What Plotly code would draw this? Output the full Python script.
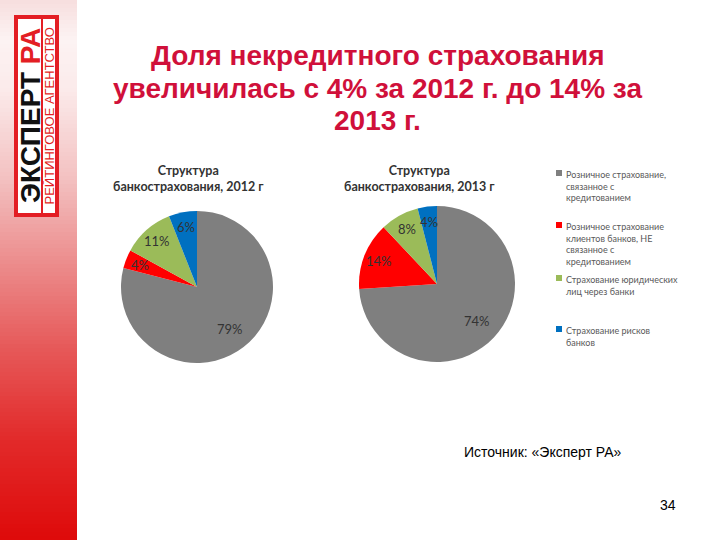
import math
import plotly.graph_objects as go

# ---------------- data ----------------
categories = [
    "Розничное страхование,<br>связанное с<br>кредитованием",
    "Розничное страхование<br>клиентов банков, НЕ<br>связанное с<br>кредитованием",
    "Страхование юридических<br>лиц через банки",
    "Страхование рисков<br>банков",
]
shares_2012 = [79, 4, 11, 6]
shares_2013 = [74, 14, 8, 4]
pie_titles = ["Структура<br>банкострахования, 2012 г", "Структура<br>банкострахования, 2013 г"]
title_lines = ["Доля некредитного страхования",
               "увеличилась с 4% за 2012 г. до 14% за",
               "2013 г."]
source_text = "Источник: «Эксперт РА»"
page_number = "34"

# ---------------- style ----------------
W, H = 720, 540
slice_colors = ["#7f7f7f", "#ff0000", "#9bbb59", "#0070c0"]
TITLE_RED = "#d0103a"


def px(x):
    return x / W


def py(y):
    return 1 - y / H


fig = go.Figure()

# pie geometry (pixel centre, radius)
pies = [
    dict(values=shares_2012, cx=197, cy=287, r=76, title=pie_titles[0], tx=188, ty=178),
    dict(values=shares_2013, cx=437, cy=284, r=78, title=pie_titles[1], tx=419, ty=178),
]

annotations = []
for p in pies:
    fig.add_trace(go.Pie(
        values=p["values"],
        labels=[c.replace("<br>", " ") for c in categories],
        sort=False,
        direction="clockwise",
        rotation=0,
        marker=dict(colors=slice_colors, line=dict(width=0)),
        textinfo="none",
        hoverinfo="label+percent",
        showlegend=False,
        domain=dict(x=[px(p["cx"] - p["r"]), px(p["cx"] + p["r"])],
                    y=[py(p["cy"] + p["r"]), py(p["cy"] - p["r"])]),
    ))
    total = sum(p["values"])
    cum = 0
    for v in p["values"]:
        mid = 90 - 360 * (cum + v / 2) / total
        cum += v
        f = 0.70 if v > 50 else 0.80
        lx = p["cx"] + f * p["r"] * math.cos(math.radians(mid))
        ly = p["cy"] - f * p["r"] * math.sin(math.radians(mid))
        annotations.append(dict(
            x=px(lx), y=py(ly), xref="paper", yref="paper",
            text=f"{v}%", showarrow=False, xanchor="center", yanchor="middle",
            font=dict(family="Lato", size=13, color="#333333"),
        ))
    annotations.append(dict(
        x=px(p["tx"]), y=py(p["ty"]), xref="paper", yref="paper",
        text="<b>" + p["title"] + "</b>", showarrow=False,
        xanchor="center", yanchor="middle", align="center",
        font=dict(family="Lato", size=12.5, color="#333333"),
    ))

# legend built from categories
legend_tops = [167, 219, 272, 323]
shapes = []
for cat, col, top in zip(categories, slice_colors, legend_tops):
    shapes.append(dict(type="rect", xref="paper", yref="paper",
                       x0=px(556), x1=px(562), y0=py(top + 9), y1=py(top + 3),
                       fillcolor=col, line=dict(width=0)))
    annotations.append(dict(
        x=px(564), y=py(top), xref="paper", yref="paper",
        text=cat, showarrow=False, xanchor="left", yanchor="top", align="left",
        font=dict(family="Lato", size=9, color="#595959"),
    ))

# left gradient strip
stops = [(0, (247, 222, 222)), (40, (252, 243, 243)), (90, (251, 234, 234)),
         (180, (243, 192, 192)), (260, (236, 142, 142)), (350, (230, 88, 88)),
         (440, (226, 42, 42)), (540, (222, 10, 10))]


def grad(y):
    for (y0, c0), (y1, c1) in zip(stops[:-1], stops[1:]):
        if y0 <= y <= y1:
            t = (y - y0) / (y1 - y0)
            return "rgb(%d,%d,%d)" % tuple(round(a + (b - a) * t) for a, b in zip(c0, c1))
    return "rgb(222,10,10)"


band = 4
for y in range(0, H, band):
    shapes.insert(0, dict(type="rect", xref="paper", yref="paper", layer="below",
                          x0=0, x1=px(77), y0=py(y + band), y1=py(y),
                          fillcolor=grad(y + band / 2), line=dict(width=0)))

# logo frame
shapes.append(dict(type="rect", xref="paper", yref="paper",
                   x0=px(14), x1=px(59), y0=py(217), y1=py(15),
                   fillcolor="#e31e24", line=dict(width=0)))
shapes.append(dict(type="rect", xref="paper", yref="paper",
                   x0=px(18), x1=px(55), y0=py(213), y1=py(19),
                   fillcolor="white", line=dict(width=0)))
shapes.append(dict(type="rect", xref="paper", yref="paper",
                   x0=px(41), x1=px(43), y0=py(213), y1=py(19),
                   fillcolor="#e31e24", line=dict(width=0)))

annotations.append(dict(
    x=px(31), y=py(116), xref="paper", yref="paper", textangle=-90,
    text="ЭКСПЕРТ <span style='color:#e31e24'>РА</span>", showarrow=False,
    xanchor="center", yanchor="middle",
    font=dict(family="Liberation Sans", size=28, color="#111111", weight="bold"),
))
annotations.append(dict(
    x=px(49.5), y=py(116), xref="paper", yref="paper", textangle=-90,
    text="РЕЙТИНГОВОЕ АГЕНТСТВО", showarrow=False,
    xanchor="center", yanchor="middle",
    font=dict(family="Liberation Sans", size=13, color="#e31e24"),
))

# title (one annotation per line)
for line, yc in zip(title_lines, [55, 88, 120]):
    annotations.append(dict(
        x=px(377), y=py(yc), xref="paper", yref="paper",
        text="<b>" + line + "</b>", showarrow=False,
        xanchor="center", yanchor="middle", align="center",
        font=dict(family="Liberation Sans", size=28, color=TITLE_RED),
    ))
annotations.append(dict(
    x=px(462), y=py(452), xref="paper", yref="paper",
    text=source_text, showarrow=False, xanchor="left", yanchor="middle",
    font=dict(family="Liberation Sans", size=14, color="#000000"),
))
annotations.append(dict(
    x=px(678), y=py(505), xref="paper", yref="paper",
    text=page_number, showarrow=False, xanchor="right", yanchor="middle",
    font=dict(family="Liberation Sans", size=14, color="#000000"),
))

fig.update_layout(
    width=W, height=H,
    margin=dict(l=0, r=0, t=0, b=0),
    paper_bgcolor="white", plot_bgcolor="white",
    showlegend=False,
    annotations=annotations,
    shapes=shapes,
)

fig.write_html("out.html")
